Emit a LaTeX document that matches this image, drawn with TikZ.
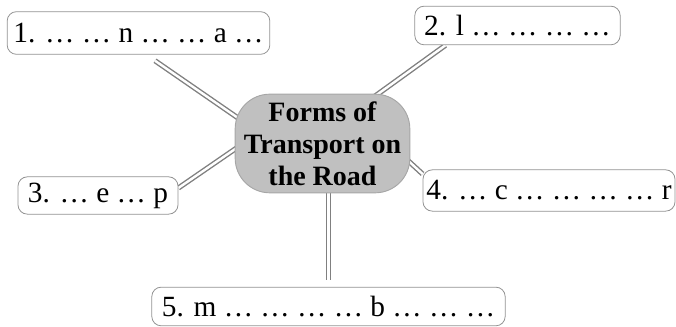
\documentclass[tikz,border=0pt]{standalone}
\usepackage{fontspec}
\setmainfont{Liberation Serif}
\usetikzlibrary{calc, backgrounds}

\definecolor{hubgray}{HTML}{C0C0C0}
\definecolor{roadgray}{HTML}{808080}
\tikzset{
  topic/.style={rectangle, draw=gray!85, fill=white, line width=0.6pt,
    rounded corners=7pt, inner sep=0pt, font=\fontsize{22}{26}\selectfont},
  road/.style={draw=roadgray, line width=1.05pt, double=white, double distance=1.8pt}
}

\begin{document}
\begin{tikzpicture}[x=0.75pt, y=0.75pt]
  \useasboundingbox (0,0) rectangle (676,327);

  \node[
  rectangle,
  draw=gray!70,
  fill=hubgray,
  line width=0.7pt,
  rounded corners=26pt,
  minimum width=131pt,
  minimum height=74pt,
  align=center,
  inner sep=0pt,
  font=\bfseries\fontsize{21}{24}\selectfont] (hub) at (322.5,183.5) {Forms of\\Transport on\\the Road};

  \node[topic, minimum width=197pt, minimum height=32pt] (n1) at (138.5,294) {1. … … n … … a …};
  \node[topic, minimum width=154pt, minimum height=29pt] (n2) at (517.5,301.5) {2. l … … … …};
  \node[topic, minimum width=120pt, minimum height=28pt] (n3) at (98,131.5) {3. … e … p};
  \node[topic, minimum width=189pt, minimum height=31pt] (n4) at (549,136.5) {4. … c … … … … r};
  \node[topic, minimum width=265pt, minimum height=29pt] (n5) at (328.5,20.5) {5. m … … … … b … … …};

  \begin{scope}[on background layer]
    \draw[road] ($(n1.south)+(16.5,-6)$) -- ($(hub.west)+(20,14)$);
    \draw[road] ($(n2.south)+(-72,0)$) -- ($(hub.north)+(42,-10)$);
    \draw[road] ($(n3.east)+(0,7.5)$) -- ($(hub.west)+(23,10)$);
    \draw[road] ($(n4.west)+(0,16.5)$) -- ($(hub.east)+(-10,-10)$);
    \draw[road] ($(n5.north)+(0,7)$) -- (n5.north |- hub.center);
  \end{scope}
\end{tikzpicture}
\end{document}
